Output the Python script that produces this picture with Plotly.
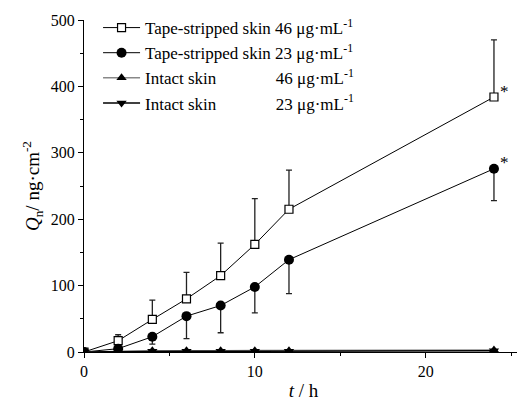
import plotly.graph_objects as go

t = [0, 2, 4, 6, 8, 10, 12, 24]
tape46 = [0, 17, 49, 80, 115, 162, 215, 384]
tape46_err_up = [0, 9, 29, 40, 49, 69, 59, 86]
tape23 = [0, 5, 23, 54, 70, 98, 139, 276]
tape23_err_down = [0, 2, 11, 34, 41, 39, 51, 48]
intact46 = [0, 1, 2, 2, 2, 2, 2, 3]
intact23 = [0, 1, 1, 1, 1, 1, 1, 2]

names = [
    "Tape-stripped skin 46 μg·mL<sup>-1</sup>",
    "Tape-stripped skin 23 μg·mL<sup>-1</sup>",
    "Intact skin" + "\u00a0" * 14 + "46 μg·mL<sup>-1</sup>",
    "Intact skin" + "\u00a0" * 14 + "23 μg·mL<sup>-1</sup>",
]

FONT = "Liberation Serif, Times New Roman, serif"
fig = go.Figure()
zeros = [0] * len(t)
fig.add_trace(go.Scatter(
    x=t, y=tape46, name=names[0], mode="lines+markers",
    line=dict(color="black", width=1),
    marker=dict(symbol="square", size=8, color="white", line=dict(width=1.2, color="black")),
    error_y=dict(type="data", symmetric=False, array=tape46_err_up, arrayminus=zeros,
                 color="#222", thickness=1.3, width=3),
))
fig.add_trace(go.Scatter(
    x=t, y=tape23, name=names[1], mode="lines+markers",
    line=dict(color="black", width=1),
    marker=dict(symbol="circle", size=10, color="black"),
    error_y=dict(type="data", symmetric=False, array=zeros, arrayminus=tape23_err_down,
                 color="#222", thickness=1.3, width=3),
))
fig.add_trace(go.Scatter(
    x=t, y=intact46, name=names[2], mode="lines+markers",
    line=dict(color="#888", width=1.5),
    marker=dict(symbol="triangle-up", size=9, color="black"),
))
fig.add_trace(go.Scatter(
    x=t, y=intact23, name=names[3], mode="lines+markers",
    line=dict(color="black", width=1.5),
    marker=dict(symbol="triangle-down", size=9, color="black"),
))

fig.add_annotation(x=24, y=tape46[-1], text="*", showarrow=False, xshift=11, yshift=6,
                   font=dict(size=17, family=FONT, color="#000000"))
fig.add_annotation(x=24, y=tape23[-1], text="*", showarrow=False, xshift=11, yshift=6,
                   font=dict(size=17, family=FONT, color="#000000"))

fig.update_layout(
    width=517, height=394,
    margin=dict(l=76, r=2, t=12, b=50),
    plot_bgcolor="white", paper_bgcolor="white",
    font=dict(family=FONT, size=16, color="black"),
    showlegend=True,
    legend=dict(x=0.032, y=1.03, xanchor="left", yanchor="top", bgcolor="rgba(0,0,0,0)",
                font=dict(size=17, family=FONT), tracegroupgap=0, itemwidth=37),
    xaxis=dict(range=[0, 25.7], dtick=10, tick0=0, showline=True, linecolor="black",
               linewidth=1, showgrid=False, zeroline=False, ticks="outside", ticklen=5,
               tickcolor="black", automargin=False,
               minor=dict(dtick=5, ticks="outside", ticklen=3, tickcolor="black"),
               title=dict(text="<i>t</i> / h", font=dict(size=19), standoff=4)),
    yaxis=dict(range=[0, 500], dtick=100, showline=True, linecolor="black", linewidth=1,
               showgrid=False, zeroline=False, ticks="outside", ticklen=5, tickcolor="black",
               automargin=False,
               minor=dict(dtick=50, ticks="outside", ticklen=3, tickcolor="black"),
               title=dict(text="<i>Q</i><sub>n</sub>/ ng·cm<sup>-2</sup>", font=dict(size=19),
                          standoff=6)),
)
fig.write_html("out.html")
